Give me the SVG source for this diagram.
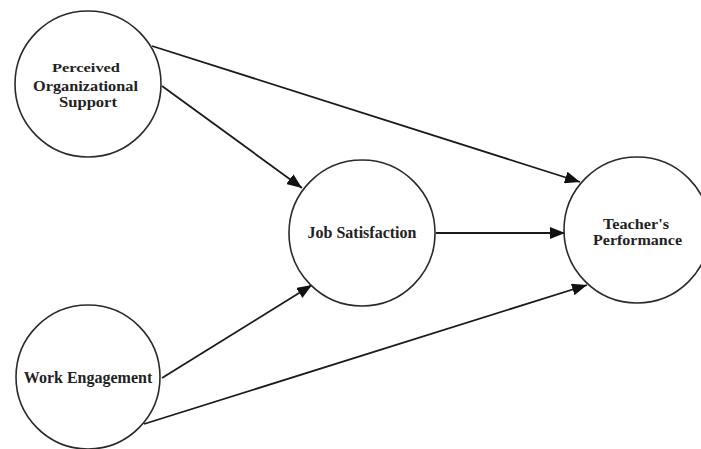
<svg xmlns="http://www.w3.org/2000/svg" width="701" height="449" viewBox="0 0 701 449">
<style>
.node circle{fill:#fff;stroke:#2a2a2a;stroke-width:1.6}
.lbl{font-family:"Liberation Serif","Times New Roman",serif;font-weight:bold;font-size:16px;fill:#222;text-anchor:middle}
.ml{font-size:14.5px}
.small{font-size:11.5px}
.conn line{stroke:#1a1a1a;stroke-width:1.8;marker-end:url(#ah)}
</style>
<defs>
<marker id="ah" markerUnits="userSpaceOnUse" markerWidth="16" markerHeight="12" refX="15" refY="6" orient="auto">
<path d="M0,0 L15,6 L0,12 z" fill="#111"/>
</marker>
</defs>
<rect width="701" height="449" fill="#fff"/>
<g id="connectors" class="conn">
<line x1="152" y1="46" x2="580" y2="182"/>
<line x1="162" y1="86" x2="302" y2="188"/>
<line x1="436" y1="233" x2="565" y2="233"/>
<line x1="162" y1="378" x2="312" y2="285"/>
<line x1="144" y1="424" x2="587" y2="285"/>
</g>
<g id="pos" class="node">
<circle cx="88" cy="84" r="73"/>
<text class="lbl small" x="86" y="72" textLength="68" lengthAdjust="spacingAndGlyphs">Perceived</text>
<text class="lbl ml" x="85.5" y="91" textLength="105" lengthAdjust="spacingAndGlyphs">Organizational</text>
<text class="lbl ml" x="88" y="107" textLength="58" lengthAdjust="spacingAndGlyphs">Support</text>
</g>
<g id="js" class="node">
<circle cx="362" cy="233" r="73"/>
<text class="lbl" x="362" y="238">Job Satisfaction</text>
</g>
<g id="tp" class="node">
<circle cx="637" cy="230" r="73"/>
<text class="lbl ml" x="636" y="229" textLength="66" lengthAdjust="spacingAndGlyphs">Teacher's</text>
<text class="lbl ml" x="637.5" y="245" textLength="89" lengthAdjust="spacingAndGlyphs">Performance</text>
</g>
<g id="we" class="node">
<circle cx="88" cy="377" r="72"/>
<text class="lbl" x="88" y="383">Work Engagement</text>
</g>
</svg>
